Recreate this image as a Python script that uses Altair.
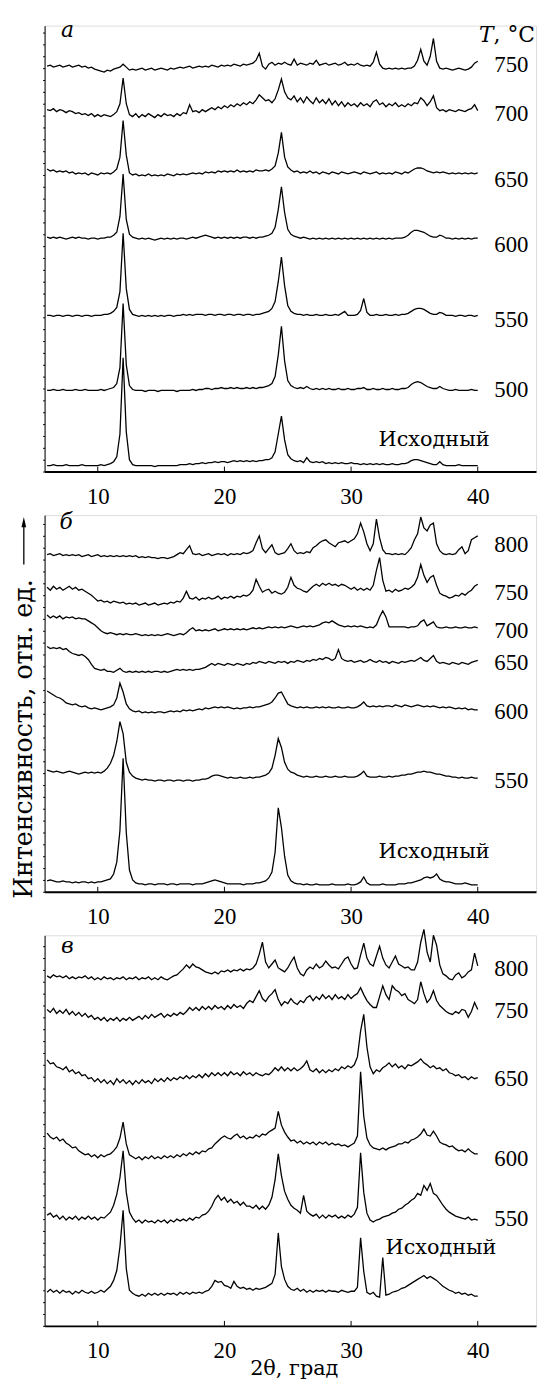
import altair as alt
import pandas as pd

# 2-theta measurement grid (deg), step 0.25 from 6 to 40
two_theta = [6 + 0.25 * i for i in range(137)]
x_ticks = [10, 20, 30, 40]

# ---------------- panel a ----------------
a_750 = [410, 411, 409, 410, 411, 409, 410, 411,
         409, 410, 411, 409, 410, 408, 409, 407,
         406, 405, 404, 406, 405, 407, 408, 409,
         412, 409, 406, 407, 406, 407, 408, 406,
         407, 408, 406, 407, 408, 407, 406, 408,
         407, 408, 409, 408, 409, 410, 408, 409,
         410, 409, 410, 409, 411, 410, 409, 411,
         410, 411, 410, 412, 411, 410, 412, 411,
         412, 413, 416, 423, 410, 407, 412, 414,
         411, 413, 412, 414, 412, 411, 417, 411,
         413, 412, 411, 413, 412, 416, 411, 412,
         413, 411, 412, 413, 411, 412, 414, 411,
         412, 411, 413, 411, 410, 411, 410, 414,
         424, 412, 408, 407, 408, 407, 408, 407,
         408, 407, 408, 408, 410, 416, 427, 415,
         411, 420, 438, 415, 408, 407, 408, 407,
         406, 407, 408, 407, 406, 407, 409, 413,
         415]
a_700 = [366, 365, 367, 364, 366, 365, 363, 365,
         364, 362, 363, 361, 362, 360, 362, 359,
         361, 359, 361, 360, 359, 361, 364, 372,
         398, 372, 361, 359, 362, 358, 361, 359,
         362, 360, 358, 361, 359, 362, 360, 361,
         359, 362, 360, 363, 362, 371, 364, 365,
         363, 366, 364, 366, 368, 366, 369, 367,
         370, 368, 371, 369, 372, 370, 373, 371,
         374, 372, 376, 381, 378, 375, 376, 373,
         377, 386, 397, 384, 378, 376, 380, 374,
         378, 373, 379, 375, 372, 378, 373, 376,
         372, 377, 371, 375, 370, 374, 369, 373,
         370, 372, 369, 373, 370, 372, 369, 374,
         376, 371, 373, 369, 372, 370, 373, 369,
         371, 369, 372, 370, 373, 372, 378, 375,
         370, 374, 380, 368, 365, 366, 364, 366,
         365, 364, 366, 365, 364, 366, 367, 371,
         365]
a_650 = [306, 304, 305, 303, 304, 303, 304, 302,
         303, 301, 302, 301, 302, 300, 302, 301,
         300, 302, 301, 302, 301, 303, 306, 318,
         355, 320, 302, 300, 301, 299, 300, 299,
         301, 299, 300, 299, 300, 299, 301, 300,
         299, 301, 300, 301, 300, 301, 302, 301,
         302, 301, 303, 302, 303, 302, 304, 303,
         304, 303, 304, 303, 305, 303, 304, 303,
         304, 303, 305, 304, 304, 305, 304, 306,
         309, 322, 343, 318, 308, 305, 303, 304,
         302, 303, 302, 304, 302, 303, 301, 303,
         302, 301, 303, 302, 301, 303, 302, 301,
         302, 303, 302, 301, 303, 302, 301, 302,
         303, 301, 302, 301, 302, 301, 303, 302,
         301, 303, 302, 304, 306, 307, 307, 306,
         304, 303, 302, 303, 302, 303, 302, 301,
         302, 301, 302, 301, 302, 301, 302, 301,
         302]
a_600 = [237, 236, 237, 236, 237, 236, 235, 236,
         237, 236, 237, 236, 236, 235, 236, 236,
         235, 236, 236, 237, 237, 239, 242, 258,
         301, 255, 240, 237, 236, 235, 236, 235,
         236, 235, 234, 235, 236, 235, 236, 235,
         236, 235, 236, 236, 235, 236, 237, 236,
         237, 238, 239, 238, 237, 236, 237, 236,
         237, 236, 237, 236, 237, 236, 237, 237,
         236, 237, 236, 237, 237, 238, 239, 241,
         247, 265, 288, 262, 245, 240, 238, 237,
         236, 237, 236, 235, 236, 235, 236, 235,
         236, 235, 236, 235, 236, 235, 236, 235,
         236, 235, 236, 235, 236, 235, 236, 235,
         236, 235, 236, 235, 236, 235, 236, 236,
         236, 237, 239, 242, 244, 244, 243, 242,
         240, 238, 237, 237, 239, 238, 236, 236,
         235, 236, 235, 236, 235, 236, 235, 236,
         236]
a_550 = [158, 158, 157, 158, 158, 157, 158, 158,
         157, 158, 158, 157, 158, 158, 157, 158,
         158, 158, 159, 159, 160, 162, 166, 182,
         241, 185, 164, 159, 158, 157, 158, 157,
         158, 157, 158, 157, 158, 157, 158, 158,
         157, 158, 158, 159, 158, 159, 158, 159,
         159, 159, 158, 159, 159, 158, 159, 159,
         158, 159, 159, 158, 159, 159, 158, 159,
         159, 158, 159, 159, 160, 161, 162, 165,
         172, 192, 217, 188, 168, 162, 160, 159,
         159, 158, 159, 158, 158, 159, 158, 158,
         159, 158, 158, 159, 158, 160, 162, 158,
         158, 158, 159, 163, 175, 161, 158, 158,
         159, 158, 158, 159, 158, 158, 159, 158,
         159, 159, 160, 162, 164, 165, 165, 164,
         162, 160, 159, 159, 161, 160, 158, 158,
         158, 157, 158, 158, 157, 158, 158, 157,
         158]
a_500 = [82, 82, 83, 82, 82, 83, 82, 82,
         82, 83, 82, 82, 83, 82, 82, 82,
         82, 83, 82, 83, 84, 85, 89, 105,
         170, 108, 87, 83, 82, 82, 82, 81,
         82, 82, 82, 81, 82, 82, 82, 82,
         82, 81, 82, 82, 82, 82, 83, 82,
         83, 83, 84, 84, 83, 84, 84, 85,
         84, 84, 85, 84, 85, 84, 84, 85,
         84, 85, 84, 85, 85, 86, 87, 89,
         96, 118, 147, 112, 92, 87, 85, 84,
         85, 84, 86, 84, 83, 84, 83, 84,
         83, 84, 83, 83, 84, 83, 83, 84,
         83, 83, 84, 84, 85, 83, 83, 84,
         83, 83, 84, 83, 83, 84, 83, 83,
         84, 84, 85, 88, 90, 91, 90, 88,
         86, 85, 84, 84, 86, 84, 83, 82,
         82, 83, 82, 82, 82, 82, 83, 82,
         82]
a_initial = [6, 6, 7, 6, 6, 6, 7, 6,
             6, 6, 6, 7, 6, 6, 6, 6,
             6, 7, 6, 7, 8, 10, 15, 38,
             115, 40, 12, 7, 6, 6, 6, 6,
             6, 6, 5, 6, 6, 6, 6, 6,
             6, 6, 7, 7, 7, 8, 7, 8,
             8, 9, 8, 9, 9, 10, 9, 10,
             10, 9, 10, 11, 10, 11, 10, 11,
             10, 11, 10, 11, 11, 12, 12, 14,
             20, 38, 56, 32, 17, 13, 11, 10,
             11, 9, 14, 10, 9, 10, 9, 10,
             8, 9, 8, 9, 8, 9, 8, 8,
             9, 8, 8, 7, 8, 7, 8, 7,
             8, 7, 8, 7, 7, 8, 7, 7,
             8, 8, 9, 11, 12, 12, 11, 10,
             9, 8, 7, 7, 10, 7, 6, 6,
             6, 6, 7, 6, 6, 6, 6, 6,
             6]

# ---------------- panel b ----------------
b_800 = [341, 342, 340, 341, 342, 340, 341, 340,
         341, 340, 341, 339, 340, 341, 339, 340,
         341, 339, 340, 339, 340, 339, 340, 339,
         340, 339, 340, 339, 340, 338, 339, 338,
         339, 338, 338, 337, 338, 338, 337, 338,
         339, 341, 343, 342, 346, 350, 342, 341,
         342, 340, 341, 342, 340, 341, 342, 341,
         342, 340, 342, 341, 342, 341, 343, 342,
         343, 345, 353, 360, 347, 343, 347, 351,
         343, 341, 342, 343, 347, 352, 345, 342,
         343, 342, 344, 343, 348, 350, 353, 355,
         356, 353, 351, 349, 353, 354, 355, 353,
         355, 357, 362, 373, 364, 352, 345, 352,
         377, 358, 346, 342, 342, 341, 342, 341,
         342, 341, 344, 348, 356, 362, 379, 368,
         365, 371, 373, 352, 345, 342, 341, 342,
         341, 342, 346, 349, 342, 345, 356, 358,
         360]
b_750 = [308, 305, 309, 306, 308, 305, 307, 309,
         306, 308, 305, 306, 304, 302, 300, 297,
         294, 295, 293, 294, 292, 294, 293, 292,
         293, 291, 292, 291, 292, 290, 291, 292,
         290, 291, 292, 290, 291, 292, 291, 293,
         292, 294, 293, 297, 304, 297, 296, 298,
         295, 297, 296, 298, 296, 297, 299, 296,
         298, 297, 299, 297, 299, 298, 300, 299,
         301, 305, 316, 309, 303, 305, 306, 302,
         304, 302, 301, 303, 308, 318, 310, 307,
         306, 304, 303, 306, 309, 311, 309, 312,
         310, 312, 310, 311, 309, 311, 310, 308,
         306, 308, 305, 307, 305, 307, 305, 310,
         325, 338, 315, 304, 305, 303, 306, 304,
         305, 307, 306, 308, 311, 318, 331, 320,
         313, 318, 320, 310, 302, 300, 299, 297,
         298, 300, 299, 302, 300, 303, 305, 309,
         311]
b_700 = [280, 277, 279, 277, 279, 276, 278, 277,
         278, 276, 277, 276, 276, 274, 272, 270,
         267, 264, 262, 261, 262, 261, 260, 261,
         260, 261, 260, 260, 261, 260, 259, 260,
         259, 260, 259, 260, 259, 260, 261, 260,
         259, 260, 261, 260, 262, 265, 267, 264,
         265, 264, 265, 264, 265, 266, 264, 265,
         266, 265, 266, 265, 266, 265, 266, 265,
         266, 267, 266, 267, 266, 267, 268, 267,
         268, 267, 268, 267, 268, 269, 268, 267,
         268, 269, 268, 269, 268, 269, 270, 272,
         273, 272, 274, 272, 270, 269, 268, 269,
         268, 269, 268, 269, 268, 267, 268, 267,
         270, 278, 284, 278, 268, 268, 268, 268,
         268, 268, 267, 268, 268, 269, 273, 275,
         269, 271, 273, 268, 267, 267, 268, 267,
         267, 268, 267, 267, 268, 267, 267, 268,
         267]
b_650 = [248, 246, 247, 246, 247, 245, 246, 243,
         241, 240, 239, 240, 238, 235, 230, 226,
         225, 224, 225, 223, 223, 222, 224, 226,
         223, 222, 223, 222, 223, 222, 223, 222,
         223, 222, 223, 223, 222, 223, 222, 223,
         224, 225, 224, 225, 224, 225, 224, 225,
         225, 226, 227, 229, 231, 229, 231, 230,
         229, 231, 230, 229, 231, 230, 229, 231,
         230, 232, 231, 233, 232, 231, 233, 232,
         231, 233, 232, 233, 231, 233, 232, 234,
         233, 232, 234, 233, 235, 234, 236, 235,
         237, 236, 234, 236, 245, 236, 234, 233,
         234, 232, 233, 234, 232, 233, 235, 233,
         232, 234, 232, 233, 231, 233, 232, 231,
         233, 232, 233, 234, 233, 235, 237, 234,
         233, 236, 239, 233, 231, 232, 231, 230,
         232, 231, 230, 232, 231, 230, 232, 233,
         234]
b_600 = [203, 201, 199, 197, 196, 194, 191, 190,
         189, 190, 188, 187, 188, 186, 185, 186,
         185, 184, 185, 186, 187, 189, 196, 211,
         202, 190, 185, 183, 182, 183, 181, 182,
         181, 182, 181, 182, 182, 181, 182, 183,
         182, 183, 182, 184, 183, 184, 183, 184,
         185, 184, 186, 185, 186, 187, 186, 187,
         186, 187, 186, 185, 186, 185, 186, 186,
         187, 186, 187, 187, 188, 189, 190, 192,
         196, 201, 202, 196, 190, 188, 187, 186,
         187, 186, 187, 186, 186, 187, 186, 187,
         186, 187, 186, 186, 187, 186, 186, 187,
         186, 186, 187, 189, 192, 188, 187, 188,
         187, 188, 187, 188, 188, 187, 189, 188,
         187, 189, 188, 187, 188, 189, 188, 187,
         188, 187, 188, 187, 186, 187, 186, 187,
         186, 185, 186, 185, 186, 184, 185, 184,
         184]
b_550 = [123, 122, 121, 122, 121, 120, 121, 122,
         121, 120, 119, 120, 121, 120, 121, 120,
         121, 120, 122, 125, 130, 138, 152, 172,
         160, 131, 121, 117, 115, 114, 113, 114,
         113, 113, 112, 113, 113, 112, 113, 113,
         112, 113, 113, 112, 113, 113, 112, 113,
         113, 114, 114, 115, 117, 118, 118, 117,
         116, 115, 116, 115, 115, 116, 115, 115,
         116, 115, 116, 116, 117, 118, 120, 125,
         138, 155, 146, 131, 124, 121, 120, 118,
         117, 116, 117, 116, 116, 117, 116, 116,
         117, 116, 116, 117, 116, 116, 117, 116,
         116, 116, 117, 119, 122, 117, 116, 116,
         116, 117, 116, 116, 117, 116, 117, 117,
         118, 118, 119, 119, 120, 121, 121, 122,
         121, 121, 120, 119, 119, 118, 117, 117,
         116, 116, 115, 116, 115, 115, 116, 115,
         115]
b_initial = [11, 12, 11, 10, 10, 11, 10, 10,
             9, 10, 9, 10, 10, 9, 10, 9,
             10, 10, 11, 12, 13, 18, 30, 62,
             135, 60, 22, 12, 9, 8, 8, 7,
             8, 8, 7, 8, 8, 8, 7, 8,
             8, 7, 8, 8, 8, 8, 7, 8,
             8, 8, 9, 10, 11, 12, 11, 10,
             9, 8, 8, 8, 8, 8, 7, 8,
             8, 8, 9, 9, 10, 11, 14, 20,
             40, 85, 65, 36, 17, 11, 9, 8,
             8, 7, 8, 7, 7, 8, 7, 7,
             7, 7, 8, 7, 7, 7, 7, 8,
             7, 7, 8, 10, 15, 9, 7, 7,
             7, 7, 8, 7, 7, 7, 7, 8,
             8, 8, 9, 9, 10, 11, 12, 14,
             15, 14, 15, 18, 13, 11, 10, 10,
             9, 8, 8, 8, 9, 8, 7, 7,
             7]

# ---------------- panel c ----------------
c_800 = [354, 352, 355, 353, 354, 352, 354, 351,
         353, 351, 353, 352, 354, 351, 353, 350,
         352, 350, 353, 351, 352, 350, 352, 351,
         353, 350, 352, 351, 353, 350, 352, 351,
         353, 350, 352, 350, 353, 351, 350, 352,
         354, 355, 358, 361, 365, 362, 366, 363,
         362, 360, 358, 357, 356, 358, 356, 359,
         358, 360, 358, 360, 359, 361, 359, 361,
         360, 362, 366, 376, 388, 368, 362, 366,
         370, 362, 360, 358, 362, 368, 373, 362,
         356, 354, 360, 363, 361, 366, 362, 364,
         369, 365, 362, 363, 361, 366, 371, 373,
         366, 361, 362, 375, 387, 372, 366, 364,
         374, 384, 372, 365, 362, 368, 374, 366,
         364, 362, 363, 360, 360, 368, 388, 401,
         378, 368, 395, 385, 365, 356, 354, 351,
         350, 355, 357, 352, 354, 358, 360, 377,
         364]
c_750 = [320, 317, 321, 316, 319, 316, 320, 315,
         318, 314, 317, 313, 316, 312, 314, 310,
         312, 309, 312, 308, 311, 309, 312, 308,
         311, 309, 312, 309, 311, 313, 310, 314,
         311, 315, 312, 314, 316, 312, 315, 313,
         316, 314, 317, 315, 318, 322, 319, 322,
         319, 323, 320, 323, 320, 324, 321, 323,
         320, 324, 321, 325, 322, 324, 321, 326,
         329, 327, 333, 339, 331, 328, 333, 336,
         340, 330, 324, 328, 326, 331, 327, 325,
         329, 327, 332, 334, 329, 333, 330, 335,
         331, 334, 330, 335, 331, 333, 330, 335,
         331, 334, 336, 342, 335, 329, 325, 322,
         322, 333, 344, 335, 330, 344, 340, 338,
         334, 336, 330, 328, 326, 330, 348, 336,
         327, 331, 339, 329, 324, 321, 318, 316,
         315, 318, 316, 320, 319, 312, 318, 327,
         320]
c_650 = [269, 265, 266, 262, 261, 259, 262, 257,
         259, 255, 257, 253, 254, 250, 251, 247,
         250, 246, 249, 245, 248, 244, 250, 246,
         249, 245, 248, 244, 248, 245, 249, 246,
         248, 245, 250, 247, 250, 247, 251, 248,
         251, 249, 252, 250, 253, 250, 253, 251,
         254, 251, 255, 252, 256, 253, 256, 253,
         256, 253, 257, 254, 256, 253, 257, 254,
         256, 253, 256, 254, 253, 255, 254, 257,
         261, 258, 262, 258, 261, 258, 261, 258,
         260, 263, 268, 259, 257, 260, 256, 259,
         256, 259, 257, 260, 258, 262, 260, 263,
         261, 264, 272, 298, 315, 282, 262, 255,
         259, 257, 261, 263, 266, 262, 265, 261,
         263, 260, 264, 263, 265, 267, 270, 266,
         264, 261, 263, 260, 261, 258, 260, 256,
         255, 253, 254, 251, 252, 249, 252, 250,
         251]
c_600 = [195, 191, 189, 191, 187, 189, 185, 183,
         180, 181, 177, 175, 173, 174, 171, 173,
         170, 173, 171, 173, 174, 177, 181, 190,
         206, 184, 173, 171, 169, 171, 168, 171,
         169, 172, 169, 171, 169, 172, 170, 172,
         170, 173, 171, 174, 172, 175, 173, 176,
         174, 177, 176, 179, 180, 184, 187, 190,
         192, 190, 189, 192, 194, 190, 192, 189,
         191, 190, 193, 191, 194, 193, 196, 198,
         200, 217, 203, 196, 191, 187, 188, 185,
         187, 184, 186, 184, 186, 183, 186, 184,
         186, 183, 185, 183, 184, 182, 183, 181,
         183, 185, 192, 257, 212, 190, 183, 180,
         179, 178, 180, 178, 180, 181, 182, 184,
         184, 186, 185, 188, 189, 191, 194, 199,
         193, 192, 197, 192, 186, 184, 183, 181,
         182, 179, 177, 178, 176, 179, 176, 174,
         174]
c_550 = [112, 114, 110, 112, 108, 111, 107, 110,
         108, 111, 107, 110, 108, 111, 108, 110,
         107, 110, 109, 112, 115, 122, 133, 150,
         177, 135, 115, 109, 105, 107, 104, 107,
         105, 106, 104, 107, 105, 107, 104, 107,
         105, 108, 106, 108, 106, 109, 107, 110,
         109, 112, 113, 116, 121, 128, 132, 127,
         130, 125, 128, 124, 126, 122, 125, 121,
         121, 119, 122, 118, 121, 118, 122, 130,
         148, 174, 152, 136, 128, 122, 119, 117,
         114, 132, 116, 113, 111, 113, 109, 112,
         109, 112, 110, 112, 109, 111, 109, 112,
         110, 113, 120, 175, 135, 114, 107, 105,
         107, 108, 110, 111, 112, 114, 115, 118,
         119, 122, 124, 127, 129, 134, 132, 142,
         137, 144, 134, 132, 127, 122, 118, 115,
         113, 111, 110, 109, 108, 110, 107, 108,
         107]
c_initial = [34, 37, 34, 36, 33, 36, 34, 35,
             32, 35, 33, 36, 34, 33, 35, 33,
             34, 36, 34, 37, 40, 46, 56, 80,
             117, 58, 36, 33, 31, 30, 32, 30,
             33, 31, 33, 31, 33, 31, 33, 32,
             33, 31, 34, 32, 34, 32, 34, 33,
             34, 33, 35, 36, 40, 46, 44, 45,
             41, 40, 38, 45, 40, 38, 39, 37,
             38, 36, 38, 37, 38, 39, 41, 43,
             52, 94, 60, 47, 40, 37, 36, 38,
             35, 37, 34, 36, 34, 36, 35, 36,
             34, 36, 35, 35, 34, 36, 35, 34,
             35, 35, 39, 89, 55, 34, 32, 34,
             30, 29, 69, 31, 32, 34, 35, 36,
             38, 39, 41, 43, 45, 47, 49, 51,
             48, 50, 48, 46, 43, 40, 38, 36,
             35, 33, 34, 32, 33, 31, 32, 30,
             30]

# curve labels (temperature, deg C) and their label levels
a_names = ["750", "700", "650", "600", "550", "500"]
a_label_y = [411, 362, 295, 229, 153, 82]
b_names = ["800", "750", "700", "650", "600", "550"]
b_label_y = [351, 302, 264, 231, 182, 112]
c_names = ["800", "750", "650", "600", "550"]
c_label_y = [361, 318, 250, 169, 108]
initial_name = "Исходный"
initial_pos = {"a": (36.55, 32), "b": (36.55, 40), "c": (37.1, 79)}
letter_pos = {"a": (7.6, 446), "b": (7.5, 374), "c": (7.6, 384)}
label_x = 42.65

SERIF = "DejaVu Serif, Liberation Serif, serif"
DIGITS = "Liberation Serif, DejaVu Serif, serif"
PLOT_W = 497
X_DOMAIN = [5.8, 44.6]

for arr in [a_750, a_700, a_650, a_600, a_550, a_500, a_initial,
            b_800, b_750, b_700, b_650, b_600, b_550, b_initial,
            c_800, c_750, c_650, c_600, c_550, c_initial]:
    assert len(arr) == len(two_theta), len(arr)


def build_panel(curves, height, names, label_y, key, letter,
                x_title=False, y_title=False, header=False):
    rows = []
    for cname, ys in curves:
        for xv, yv in zip(two_theta, ys):
            rows.append({"x": xv, "y": yv, "curve": cname})
    df = pd.DataFrame(rows)

    xaxis_kw = dict(values=x_ticks, ticks=False, grid=False,
                    labelFont=DIGITS, labelFontSize=23, labelColor="black",
                    labelPadding=14, domainColor="black", domainWidth=2,
                    labelFlush=False)
    if x_title:
        xaxis_kw.update(title="2θ, град", titleFont=SERIF, titleFontSize=21,
                        titleFontWeight="normal", titleColor="black",
                        titleY=43, titleX=252, titleBaseline="middle")
    else:
        xaxis_kw.update(title=None)
    yaxis_kw = dict(labels=False, ticks=True, tickSize=2, tickColor="black",
                    values=list(range(0, height, 12)), grid=False,
                    domainColor="black", domainWidth=1)
    if y_title:
        yaxis_kw.update(title="Интенсивность, отн. ед.", titleFont=SERIF,
                        titleFontSize=25.5, titleFontWeight="normal",
                        titleColor="black", titleAngle=270, titleX=-21,
                        titleY=226, titleAlign="center", titleBaseline="middle")
    else:
        yaxis_kw.update(title=None)

    x_enc = alt.X("x:Q", scale=alt.Scale(domain=X_DOMAIN, nice=False, zero=False),
                  axis=alt.Axis(**xaxis_kw))
    y_enc = alt.Y("y:Q", scale=alt.Scale(domain=[0, height], nice=False, zero=False),
                  axis=alt.Axis(**yaxis_kw))

    lines = alt.Chart(df).mark_line(color="black", strokeWidth=1.3).encode(
        x=x_enc, y=y_enc, detail="curve:N")

    ticks = alt.Chart(pd.DataFrame({"x": x_ticks})).mark_rule(
        color="black", strokeWidth=1).encode(
        x=x_enc, y=alt.value(height), y2=alt.value(height - 5))

    lab_df = pd.DataFrame({"x": [label_x] * len(names), "y": label_y, "text": names})
    labels = alt.Chart(lab_df).mark_text(
        font=DIGITS, fontSize=23, color="black", align="center",
        baseline="middle").encode(x=x_enc, y=y_enc, text="text:N")

    ix, iy = initial_pos[key]
    init = alt.Chart(pd.DataFrame({"x": [ix], "y": [iy], "text": [initial_name]})).mark_text(
        font=SERIF, fontSize=21, color="black", align="center",
        baseline="middle").encode(x=x_enc, y=y_enc, text="text:N")

    lx, ly = letter_pos[key]
    let = alt.Chart(pd.DataFrame({"x": [lx], "y": [ly], "text": [letter]})).mark_text(
        font=SERIF, fontSize=22, fontStyle="italic", color="black", align="center",
        baseline="middle").encode(x=x_enc, y=y_enc, text="text:N")

    layers = [lines, ticks, labels, init, let]

    if header:
        hx = 41.25
        t1 = alt.Chart(pd.DataFrame({"x": [hx], "y": [441], "text": ["T"]})).mark_text(
            font=SERIF, fontSize=22, fontStyle="italic", color="black", align="right",
            baseline="middle").encode(x=x_enc, y=y_enc, text="text:N")
        t2 = alt.Chart(pd.DataFrame({"x": [hx], "y": [441], "text": [", °C"]})).mark_text(
            font=SERIF, fontSize=22, color="black", align="left",
            baseline="middle").encode(x=x_enc, y=y_enc, text="text:N")
        layers += [t1, t2]

    if y_title:
        one = pd.DataFrame({"k": [0]})
        shaft = alt.Chart(one).mark_rule(color="black", strokeWidth=1.3).encode(
            x=alt.value(-21), y=alt.value(50), y2=alt.value(10))
        head = alt.Chart(one).mark_point(
            shape="M0,-1L0.4,0.7L-0.4,0.7Z", filled=True, color="black",
            size=144, opacity=1, strokeWidth=0).encode(
            x=alt.value(-21), y=alt.value(8))
        layers += [shaft, head]

    return alt.layer(*layers).properties(width=PLOT_W, height=height)


panel_a = build_panel(
    [(n, s) for n, s in zip(a_names + [initial_name],
                            [a_750, a_700, a_650, a_600, a_550, a_500, a_initial])],
    451, a_names, a_label_y, "a", "а", header=True)
panel_b = build_panel(
    [(n, s) for n, s in zip(b_names + [initial_name],
                            [b_800, b_750, b_700, b_650, b_600, b_550, b_initial])],
    381, b_names, b_label_y, "b", "б", y_title=True)
panel_c = build_panel(
    [(n, s) for n, s in zip(c_names + [initial_name],
                            [c_800, c_750, c_650, c_600, c_550, c_initial])],
    395, c_names, c_label_y, "c", "в", x_title=True)

chart = alt.vconcat(panel_a, panel_b, panel_c, spacing=44, bounds="flush").properties(
    padding={"left": 3, "top": 3, "right": 0, "bottom": 0}
).configure_view(stroke="transparent").configure(background="white")

chart.save("out.html", embed_options={"renderer": "svg", "actions": False})
